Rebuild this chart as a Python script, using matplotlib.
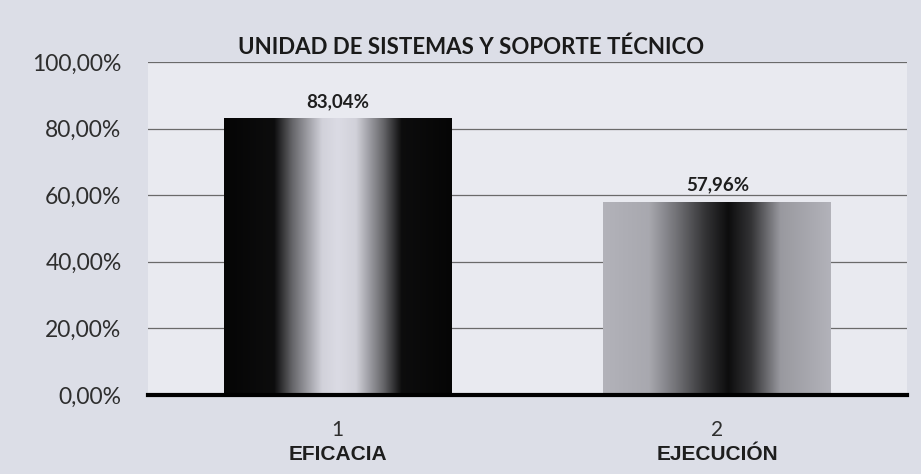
import numpy as np
import matplotlib
matplotlib.use("Agg")
import matplotlib.pyplot as plt

# data
categories = ["EFICACIA", "EJECUCIÓN"]
tick_numbers = ["1", "2"]
values = [0.8304, 0.5796]
value_labels = ["83,04%", "57,96%"]
y_ticks = [0.0, 0.2, 0.4, 0.6, 0.8, 1.0]
y_tick_labels = ["0,00%", "20,00%", "40,00%", "60,00%", "80,00%", "100,00%"]
title = "UNIDAD DE SISTEMAS Y SOPORTE TÉCNICO"

# horizontal shading profiles of the two bars (0 = black, 1 = light)
pos1 = [0.0, 0.22, 0.30, 0.43, 0.50, 0.58, 0.70, 0.78, 1.0]
lum1 = [0.02, 0.05, 0.40, 0.82, 0.86, 0.82, 0.40, 0.05, 0.02]
pos2 = [0.0, 0.20, 0.32, 0.45, 0.55, 0.65, 0.78, 1.0]
lum2 = [0.70, 0.66, 0.45, 0.20, 0.05, 0.20, 0.60, 0.70]

plt.rcParams['font.family'] = ['Lato', 'DejaVu Sans']

fig = plt.figure(figsize=(9.21, 4.74), dpi=100)
fig.patch.set_facecolor('#dcdee7')
ax = fig.add_axes([0.1607, 0.1667, 0.8241, 0.7025])
ax.set_facecolor('#e9eaf0')

x = np.arange(len(categories))
bars = ax.bar(x, values, width=0.6, color='none', zorder=3)


def shade_bar(ax, bar, pos, lum, tint=(1.0, 1.0, 1.04)):
    xs = np.linspace(0, 1, 256)
    l = np.interp(xs, pos, lum)
    img = np.zeros((1, 256, 3))
    for i in range(3):
        img[0, :, i] = np.clip(l * tint[i], 0, 1)
    x0 = bar.get_x()
    w = bar.get_width()
    h = bar.get_height()
    im = ax.imshow(img, extent=(x0, x0 + w, 0, h), aspect='auto',
                   interpolation='bilinear', zorder=3)
    im.set_clip_path(bar)


shade_bar(ax, bars[0], pos1, lum1)
shade_bar(ax, bars[1], pos2, lum2)
ax.set_xlim(-0.5, len(categories) - 0.5)
ax.set_ylim(0, 1.0)

ax.set_yticks(y_ticks)
ax.set_yticklabels(y_tick_labels, fontsize=16.5, color='#2e2e2e')
ax.grid(axis='y', color='#6a6a6a', linewidth=0.9, zorder=1)
ax.set_axisbelow(True)
ax.tick_params(axis='y', length=0, pad=19)

ax.set_xticks(x)
ax.set_xticklabels(tick_numbers, fontsize=15, color='#2e2e2e')
ax.tick_params(axis='x', length=0, pad=18)

for xi, name in zip(x, categories):
    ax.text(xi, -0.18, name, transform=ax.get_xaxis_transform(),
            ha='center', va='center', fontsize=15, fontweight='bold',
            family='Liberation Sans', color='#1e1e1e')

for bar, lab in zip(bars, value_labels):
    ax.annotate(lab, (bar.get_x() + bar.get_width() / 2, bar.get_height()),
                xytext=(0, 17), textcoords='offset pixels',
                ha='center', va='center', fontsize=13.5, fontweight='bold',
                color='#1e1e1e', zorder=5)

for s in ['top', 'right', 'left']:
    ax.spines[s].set_visible(False)
ax.spines['bottom'].set_linewidth(3)
ax.spines['bottom'].set_color('black')
ax.spines['bottom'].set_zorder(4)

fig.text(0.511, 0.90, title, ha='center', va='center', fontsize=16,
         fontweight='bold', color='#1a1a1a')

plt.savefig("out.png", dpi=100, facecolor=fig.get_facecolor())
